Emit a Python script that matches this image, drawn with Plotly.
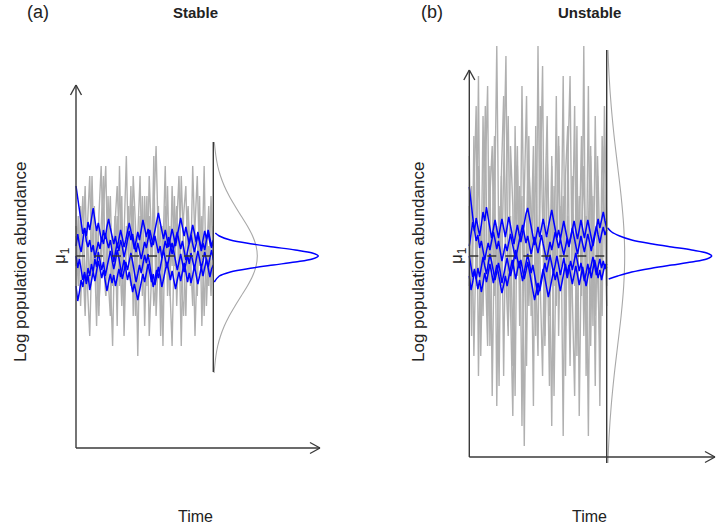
import numpy as np
import plotly.graph_objects as go

# ---------------- data (values in units of log abundance, mu = 0) ----------------
MU = 0.0
panel_labels = ["(a)", "(b)"]
panel_titles = ["Stable", "Unstable"]
x_label = "Time"
y_label = "Log population abundance"
mu_label = "μ<sub>1</sub>"

gray_a1 = [2, -3, 5, -1, -6, 3, 8, -2, 1, -7, 4, 9, 0, -4, 6, -2, -9, 3, 7, 1, -5, 2, 10, -1, -3, 5, -6, 2, 8, -4, 0, 6, -8, -2, 4, 11, 1, -5, 3, -1, 7, -3, -9, 2, 5, -2, 8, 0, -6, 4, -3, 9, 1, -4, 6, -7, 2, -1, 5, -3, 1]
gray_a2 = [-1, 4, -5, 2, 7, -3, -8, 1, 5, -2, -6, 3, 8, -4, 1, 6, -3, 4, -7, 9, -2, -5, 3, 0, 7, -6, 2, -10, 4, -1, 6, -3, 8, 2, -5, -2, 5, -8, 1, 9, -4, 3, -1, 6, -5, 2, -9, 4, 7, -2, 0, -5, 3, 8, -1, 4, -6, 2, -3, 6, -2]
gray_a3 = [3, -2, 1, 6, -4, 2, -3, 8, -1, 3, -5, 0, 5, 9, -2, -6, 2, -1, 4, -3, 6, -8, 1, 5, -2, 8, 3, -4, -1, 6, -7, 2, 4, -3, 10, -6, 0, 3, -9, 5, 2, -4, 7, -1, 3, 8, -3, -6, 2, 5, -1, 3, -8, 0, 4, -2, 9, -5, 1, -4, 3]

blue_a1 = [7, 5.8, 4.2, 3.5, 2.2, 2.8, 1.5, 0.9, 1.6, 0.4, 1.1, -0.2, 0.6, 1.4, 0.7, 1.9, 1.2, 2.3, 1.5, 0.8, 1.6, 0.3, -0.6, 0.4, 1.3, 0.5, 1.6, 0.9, -0.1, 0.7, 1.8, 2.5, 1.6, 2.2, 1.1, 0.4, 1.3, 0.6, -0.3, 0.5, 1.4, 0.8, 1.7, 2.6, 1.8, 1.1, 2.0, 1.2, 0.3, 1.0, -0.2, 0.6, 1.5, 0.8, 1.9, 1.1, 0.2, 0.9, 1.7, 2.4, 1.5, 0.7, 1.5, 0.6, -0.4, 0.5, 1.3, 2.1, 1.2, 0.4, 1.2, 2.2, 1.4, 0.5, 1.3, 0.6, 1.6, 2.3, 1.4, 0.8, 1.5]
blue_a2 = [-3, -4.5, -3.6, -2.4, -3.1, -1.8, -2.5, -1.2, -2.0, -0.8, -1.6, -0.3, -1.1, 0.4, -0.5, -1.4, -0.6, -2.0, -1.2, -0.3, 0.5, -0.4, -1.3, -0.5, 0.6, -0.2, -1.1, -2.3, -1.5, -0.6, -1.4, -0.5, 0.3, -0.6, -1.5, -2.6, -1.8, -0.9, -1.7, -0.8, 0.1, -0.7, 0.2, -0.9, -2.0, -3.1, -2.3, -1.4, -2.2, -1.1, -0.3, 0.6, -0.3, -1.2, -0.4, 0.7, 1.3, 0.4, -0.5, -1.4, -0.6, 0.2, -0.7, -1.6, -0.8, 0.1, -0.8, 0.3, -0.5, -1.3, -0.4, 0.5, -0.3, -1.2, -0.5, 0.4, -0.4, -1.1, -0.2, 0.6, -0.4]
blue_a3 = [1, 2.2, 1.1, 0.4, 1.6, 2.8, 2.0, 3.4, 2.6, 3.9, 4.8, 3.6, 2.5, 3.3, 2.1, 1.4, 2.6, 1.7, 2.9, 3.7, 2.8, 1.9, 1.2, 2.0, 0.8, 1.7, 2.6, 1.8, 0.9, 1.6, 2.4, 3.3, 2.5, 1.6, 0.7, 1.5, 2.4, 1.6, 2.7, 3.6, 2.8, 1.9, 2.7, 1.8, 0.9, 1.7, 2.6, 3.5, 4.3, 3.4, 2.5, 1.7, 2.6, 1.8, 0.9, 1.8, 2.7, 1.9, 1.0, 2.0, 2.9, 3.8, 2.9, 2.0, 2.9, 2.1, 1.2, 2.2, 3.1, 2.3, 1.4, 2.4, 1.5, 0.7, 1.6, 2.5, 1.7, 2.6, 1.8, 1.0, 1.6]
blue_a4 = [0, -1.2, -0.3, -1.5, -2.4, -1.6, -2.8, -1.9, -3.4, -2.5, -1.6, -2.5, -1.4, -0.5, -1.3, -2.2, -1.4, -2.6, -3.5, -2.6, -1.8, -2.7, -1.9, -3.0, -2.2, -1.3, -2.1, -1.2, -0.4, -1.3, -2.4, -1.6, -2.7, -3.6, -2.8, -3.7, -4.4, -3.5, -2.7, -1.8, -2.6, -1.7, -0.8, -1.7, -2.6, -1.8, -2.9, -2.0, -1.1, -2.0, -3.1, -2.3, -1.4, -0.6, -1.5, -2.4, -1.5, -2.5, -3.3, -2.4, -1.6, -2.5, -1.6, -0.7, -1.6, -2.6, -1.7, -2.7, -1.9, -1.0, -1.9, -2.8, -2.0, -1.1, -2.0, -1.2, -0.3, -1.2, -2.1, -1.3, -0.9]

gray_b1 = [5, -8, 12, -3, 18, -10, 2, 15, -6, 9, -14, 4, 21, -2, 8, -12, 6, 14, -5, -16, 3, 11, -7, 17, 0, -11, 9, 4, -15, 13, -4, 7, 19, -9, 2, -13, 10, -3, 16, -8, 5, -18, 8, 13, -6, 1, 15, -10, 6, -4, 21, -12, 3, 11, -7, 14, -2, -9, 12, 4, -5]
gray_b2 = [10, -4, 6, 15, -12, 3, -6, 8, 17, -9, 1, 12, -15, 5, -3, 10, 20, -7, 4, -11, 13, -2, 7, -17, 6, 16, -5, 2, 11, -8, 21, -3, -12, 5, 14, -6, 9, -14, 3, 12, -1, 18, -7, 4, -11, 8, -3, 13, -16, 2, 9, -5, 17, -9, 6, -13, 10, 1, -6, 15, 3]
gray_b3 = [-3, 7, -10, 2, 9, -5, 14, -1, -9, 6, 11, -4, 3, -13, 8, 16, -2, -8, 11, 5, -14, 9, -1, 6, -19, 3, 12, -6, 8, -2, -10, 15, 4, -8, 10, 2, -17, 7, -5, 11, -3, 6, -12, 9, 18, -4, -14, 7, 1, 12, -8, 4, -18, 10, 2, -6, 8, -15, 5, 11, -3]

blue_b1 = [6.9, 5.2, 3.9, 2.6, 1.5, 2.1, 0.8, 1.5, 0.4, -0.4, 0.5, 1.3, 0.6, 1.7, 2.4, 1.6, 0.7, 1.5, 0.4, -0.5, 0.3, 1.2, 0.5, 1.4, 2.2, 1.3, 0.5, -0.3, 0.6, 1.5, 2.5, 3.1, 2.2, 1.3, 2.0, 1.1, 0.2, 1.0, 1.9, 1.1, 0.3, 1.2, 2.1, 1.2, 0.4, -0.4, 0.5, 1.4, 0.6, 1.5, 2.4, 1.6, 0.8, 1.7, 0.9, 0.1, 0.9, 1.8, 1.0, 2.0, 2.8, 1.9, 1.0, 0.2, 1.1, 2.0, 1.2, 0.4, 1.3, 2.2, 1.4, 0.5, 1.4, 2.3, 3.0, 2.1, 1.3, 2.2, 2.9, 2.1, 2.6]
blue_b2 = [-2, -3.4, -2.6, -1.5, -2.3, -1.2, -2.1, -0.9, -0.1, -1.0, -1.8, -0.8, 0.2, -0.6, -1.5, -2.4, -1.6, -0.7, -1.6, -2.7, -1.9, -1.0, -0.2, -1.1, -2.0, -1.2, -0.3, 0.6, -0.3, -1.2, -0.4, -1.3, -2.3, -1.5, -0.6, -1.5, -2.5, -3.4, -4.4, -3.6, -2.7, -3.5, -2.5, -1.6, -0.7, -1.6, -0.8, 0.1, -0.8, -1.7, -0.9, 0.0, -0.9, -1.9, -1.1, -0.2, -1.2, -2.2, -1.4, -0.5, -1.4, -0.6, 0.3, -0.6, -1.5, -0.7, -1.6, -2.5, -1.7, -0.8, -1.7, -0.9, -0.1, -1.0, -1.9, -1.1, -0.3, -1.2, -0.5, -1.3, -0.8]
blue_b3 = [1, 2.4, 3.4, 2.5, 3.8, 2.9, 2.0, 3.1, 4.4, 3.5, 4.9, 3.8, 2.7, 1.8, 2.7, 3.6, 2.7, 1.8, 2.8, 3.7, 2.8, 1.9, 2.9, 3.9, 3.0, 2.1, 1.2, 2.2, 3.1, 2.2, 1.4, 2.3, 3.3, 4.2, 4.8, 3.8, 2.9, 2.0, 1.1, 2.0, 2.9, 1.9, 2.8, 3.7, 2.8, 1.9, 2.9, 3.9, 4.6, 3.6, 2.7, 1.8, 2.6, 1.7, 2.6, 3.5, 2.6, 1.7, 0.9, 1.8, 2.7, 3.5, 2.6, 1.7, 2.6, 3.6, 2.7, 1.8, 2.7, 3.6, 2.7, 1.9, 1.0, 1.9, 2.8, 3.7, 2.8, 3.7, 4.4, 3.5, 2.8]
blue_b4 = [0, -1.1, -2.1, -1.3, -2.5, -3.3, -2.4, -3.6, -2.7, -1.7, -2.6, -1.7, -0.8, -1.7, -2.7, -1.8, -0.9, -1.8, -2.8, -3.7, -2.9, -2.0, -3.0, -2.1, -1.2, -0.4, -1.3, -2.3, -1.4, -0.5, -1.5, -2.5, -1.6, -0.7, 0.2, -0.7, -1.7, -0.9, -1.9, -2.9, -3.9, -3.1, -2.2, -1.3, -2.2, -3.2, -4.1, -3.3, -2.4, -1.5, -2.4, -1.6, -2.6, -3.5, -2.6, -1.7, -0.8, -1.8, -0.9, -1.9, -2.8, -1.9, -1.0, -1.9, -2.9, -2.0, -1.1, -2.1, -3.0, -2.1, -1.2, -2.2, -1.3, -0.4, -1.3, -2.2, -1.4, -2.4, -1.6, -0.8, -1.2]

# stationary densities (relative height) read at log-abundance levels
dens_blue_a_y = [2.3, 2.0, 1.6, 1.2, 0.9, 0.6, 0.3, 0, -0.3, -0.6, -0.9, -1.2, -1.6, -2.0, -2.6]
dens_blue_a_v = [0.02, 0.06, 0.17, 0.39, 0.60, 0.82, 0.99, 1.05, 0.99, 0.82, 0.60, 0.39, 0.17, 0.06, 0.01]
dens_gray_a_y = [11.4, 10, 9, 8, 7, 6, 5, 4, 3, 2, 1, 0, -1, -2, -3, -4, -5, -6, -7, -8, -9, -10, -11.7]
dens_gray_a_v = [0.01, 0.026, 0.044, 0.072, 0.11, 0.159, 0.217, 0.279, 0.341, 0.393, 0.428, 0.44, 0.428, 0.393, 0.341, 0.279, 0.217, 0.159, 0.11, 0.072, 0.044, 0.026, 0.008]
dens_blue_b_y = [2.8, 2.4, 2.0, 1.6, 1.2, 0.9, 0.6, 0.3, 0, -0.3, -0.6, -0.9, -1.2, -1.6, -2.0, -2.3]
dens_blue_b_v = [0.01, 0.05, 0.13, 0.25, 0.46, 0.65, 0.85, 1.0, 1.05, 1.0, 0.85, 0.65, 0.46, 0.25, 0.11, 0.02]
dens_gray_b_y = [20.6, 18, 15, 12, 9, 6, 3, 0, -3, -6, -9, -12, -15, -18, -20.7]
dens_gray_b_v = [0.013, 0.024, 0.045, 0.074, 0.109, 0.144, 0.17, 0.18, 0.17, 0.144, 0.109, 0.074, 0.045, 0.024, 0.012]

T_END = 100.0

# ---------------- layout geometry (pixels) ----------------
W, H = 720, 527
PX_PER_UNIT = 10.0  # vertical px per log-abundance unit
DENS_PX = 100.0     # px per unit relative density

panels = [
    dict(t0=76.0, t1=213.3, mu_px=256.0, dom_x=(60, 330), dom_y=(70, 465),
         ax_top=85.0, ax_bot=448.0, ax_right=320.0, vtop=142.0, vbot=372.0,
         gray=[gray_a1, gray_a2, gray_a3], blue=[blue_a1, blue_a2, blue_a3, blue_a4],
         dg=(dens_gray_a_y, dens_gray_a_v), db=(dens_blue_a_y, dens_blue_a_v),
         lab_x=38, ylab_x=21, mu_x=61, title_x=196, time_x=196),
    dict(t0=469.3, t1=606.7, mu_px=256.0, dom_x=(455, 720), dom_y=(40, 475),
         ax_top=70.0, ax_bot=457.0, ax_right=715.0, vtop=50.0, vbot=463.0,
         gray=[gray_b1, gray_b2, gray_b3], blue=[blue_b1, blue_b2, blue_b3, blue_b4],
         dg=(dens_gray_b_y, dens_gray_b_v), db=(dens_blue_b_y, dens_blue_b_v),
         lab_x=432, ylab_x=419, mu_x=458, title_x=589, time_x=589),
]

fig = go.Figure()
shapes = []
annotations = []
AX_COL = "#3a3a3a"
FONT = "Liberation Sans, Arial, Helvetica, sans-serif"

for i, p in enumerate(panels):
    k = (p["t1"] - p["t0"]) / T_END
    xr = [(p["dom_x"][0] - p["t0"]) / k, (p["dom_x"][1] - p["t0"]) / k]
    yr = [-(p["dom_y"][1] - p["mu_px"]) / PX_PER_UNIT, (p["mu_px"] - p["dom_y"][0]) / PX_PER_UNIT]
    xa = "x" if i == 0 else "x2"
    ya = "y" if i == 0 else "y2"
    axkey = "" if i == 0 else "2"
    fig.layout["xaxis" + axkey] = dict(domain=[p["dom_x"][0] / W, p["dom_x"][1] / W], range=xr,
                                       visible=False, fixedrange=True, anchor=ya)
    fig.layout["yaxis" + axkey] = dict(domain=[1 - p["dom_y"][1] / H, 1 - p["dom_y"][0] / H], range=yr,
                                       visible=False, fixedrange=True, anchor=xa)

    for s in p["gray"]:
        t = np.linspace(0, T_END, len(s))
        fig.add_trace(go.Scatter(x=t, y=s, mode="lines", line=dict(color="#b0b0b0", width=1.4),
                                 xaxis=xa, yaxis=ya, showlegend=False, hoverinfo="skip"))
    for s in p["blue"]:
        t = np.linspace(0, T_END, len(s))
        fig.add_trace(go.Scatter(x=t, y=s, mode="lines", line=dict(color="#0000ff", width=1.5),
                                 xaxis=xa, yaxis=ya, showlegend=False, hoverinfo="skip"))
    fig.add_trace(go.Scatter(x=[0, T_END], y=[MU, MU], mode="lines",
                             line=dict(color="#333333", width=1.5, dash="dash"),
                             xaxis=xa, yaxis=ya, showlegend=False, hoverinfo="skip"))
    dscale = DENS_PX / k
    gy, gv = p["dg"]
    fig.add_trace(go.Scatter(x=[T_END + v * dscale for v in gv], y=gy, mode="lines", line_shape="spline",
                             line=dict(color="#a8a8a8", width=1.1), xaxis=xa, yaxis=ya,
                             showlegend=False, hoverinfo="skip"))
    by, bv = p["db"]
    fig.add_trace(go.Scatter(x=[T_END + v * dscale for v in bv], y=by, mode="lines", line_shape="spline",
                             line=dict(color="#0000ff", width=1.5), xaxis=xa, yaxis=ya,
                             showlegend=False, hoverinfo="skip"))

    # axes drawn as lines with open arrowheads (paper pixel geometry)
    def px(xp, yp):
        return xp / W, 1 - yp / H
    x0 = p["t0"]
    segs = [
        ((x0, p["ax_bot"]), (x0, p["ax_top"])),
        ((x0, p["ax_bot"]), (p["ax_right"], p["ax_bot"])),
        ((x0 - 5.5, p["ax_top"] + 10), (x0, p["ax_top"])),
        ((x0 + 5.5, p["ax_top"] + 10), (x0, p["ax_top"])),
        ((p["ax_right"] - 10, p["ax_bot"] - 5.5), (p["ax_right"], p["ax_bot"])),
        ((p["ax_right"] - 10, p["ax_bot"] + 5.5), (p["ax_right"], p["ax_bot"])),
        ((p["t1"], p["vtop"]), (p["t1"], p["vbot"])),
    ]
    for (a, b) in segs:
        xa0, ya0 = px(*a)
        xb0, yb0 = px(*b)
        shapes.append(dict(type="line", xref="paper", yref="paper", x0=xa0, y0=ya0, x1=xb0, y1=yb0,
                           line=dict(color=AX_COL, width=1.4), layer="above"))

    annotations += [
        dict(text=panel_labels[i], x=p["lab_x"] / W, y=1 - 12 / H, xref="paper", yref="paper",
             showarrow=False, font=dict(family=FONT, size=18, color="#222"), xanchor="center", yanchor="middle"),
        dict(text="<b>" + panel_titles[i] + "</b>", x=p["title_x"] / W, y=1 - 12 / H, xref="paper", yref="paper",
             showarrow=False, font=dict(family=FONT, size=15, color="#222"), xanchor="center", yanchor="middle"),
        dict(text=y_label, x=p["ylab_x"] / W, y=1 - 262 / H, xref="paper", yref="paper", textangle=-90,
             showarrow=False, font=dict(family=FONT, size=17, color="#222"), xanchor="center", yanchor="middle"),
        dict(text=x_label, x=p["time_x"] / W, y=1 - 516 / H, xref="paper", yref="paper",
             showarrow=False, font=dict(family=FONT, size=16, color="#222"), xanchor="center", yanchor="middle"),
        dict(text=mu_label, x=p["mu_x"] / W, y=1 - 256 / H, xref="paper", yref="paper", textangle=-90,
             showarrow=False, font=dict(family=FONT, size=17, color="#222"), xanchor="center", yanchor="middle"),
    ]

fig.update_layout(width=W, height=H, margin=dict(l=0, r=0, t=0, b=0), plot_bgcolor="white",
                  paper_bgcolor="white", shapes=shapes, annotations=annotations, showlegend=False)
fig.write_html("out.html", config={"displayModeBar": False},
               post_script="document.body.style.margin='0';document.body.style.padding='0';")
